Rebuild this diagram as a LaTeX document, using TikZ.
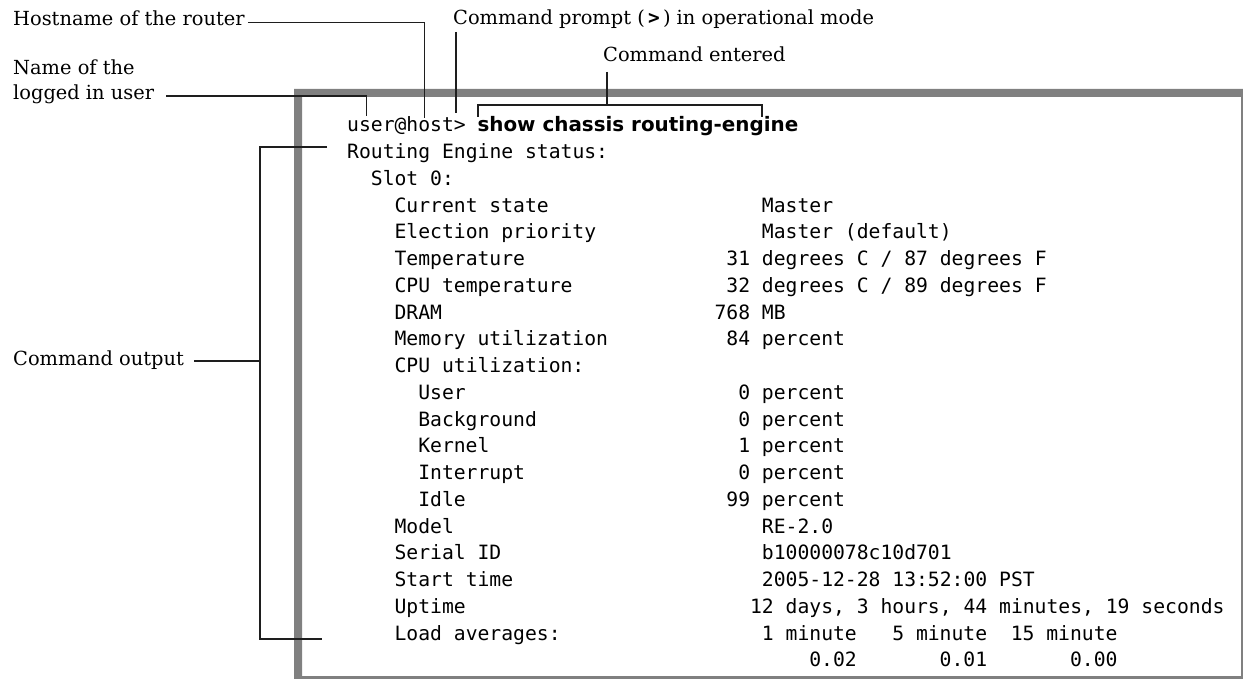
\documentclass[tikz,border=0pt]{standalone}
\usepackage{fontspec}
\usepackage{tikz}
\usetikzlibrary{positioning}
\newfontfamily\termfont{DejaVu Sans Mono}
\newfontfamily\cmdfont{DejaVu Sans}
\newfontfamily\notefont{DejaVu Serif}
\definecolor{framegray}{RGB}{128,128,128}
\definecolor{leadergray}{RGB}{30,30,30}

\begin{document}
\begin{tikzpicture}[x=1pt,y=-1pt]

% styles
\tikzset{
    term/.style={anchor=base west, inner sep=0pt, font=\termfont\fontsize{19.7}{22}\selectfont},
    cmd/.style={anchor=base west, inner sep=0pt, font=\cmdfont\bfseries\fontsize{19.9}{22}\selectfont},
    note/.style={anchor=base west, inner sep=0pt, font=\notefont\fontsize{19.4}{22}\selectfont},
    leader/.style={draw=leadergray, line width=1.7pt},
    frame/.style={fill=framegray, even odd rule}
}

\useasboundingbox (0,0) rectangle (1243,679);

% terminal frame
\fill[frame] (294,89) rectangle (1243,679) (302,97) rectangle (1241,676);

% prompt line
\node[term] (l1) at (347,132) {user@host>};
\node[cmd] (cmd) at ({347+11*11.85},132) {show chassis routing-engine};

% output, left column
\foreach \i/\c/\t in {2/0/Routing Engine status:, 3/2/Slot 0:, 4/4/Current state,
    5/4/Election priority, 6/4/Temperature, 7/4/CPU temperature, 8/4/DRAM,
    9/4/Memory utilization, 10/4/CPU utilization:, 11/6/User, 12/6/Background,
    13/6/Kernel, 14/6/Interrupt, 15/6/Idle, 16/4/Model, 17/4/Serial ID,
    18/4/Start time, 19/4/Uptime, 20/4/Load averages:} {
    \node[term] (l\i) at ({347+\c*11.85},{132+(\i-1)*26.74}) {\t};
}

% output, values
\foreach \i/\c/\t in {4/35/Master, 5/35/Master (default),
    6/32/{31 degrees C / 87 degrees F}, 7/32/{32 degrees C / 89 degrees F},
    8/31/768 MB, 9/32/84 percent, 11/33/0 percent, 12/33/0 percent,
    13/33/1 percent, 14/33/0 percent, 15/32/99 percent, 16/35/RE-2.0,
    17/35/b10000078c10d701, 18/35/2005-12-28 13:52:00 PST,
    19/34/{12 days, 3 hours, 44 minutes, 19 seconds},
    20/35/1 minute, 20/46/5 minute, 20/56/15 minute,
    21/39/0.02, 21/50/0.01, 21/61/0.00} {
    \node[term] (v\i-\c) at ({347+\c*11.85},{132+(\i-1)*26.74}) {\t};
}

% notes
\node[note] (host) at (13,25.5) {Hostname of the router};
\node[note] (prompt) at (453,25) {Command prompt (\,{\termfont\bfseries >}\,) in operational mode};
\node[note] (entered) at (603,61.5) {Command entered};
\node[note] (namea) at (13,75) {Name of the};
\node[note] (nameb) at (13,100) {logged in user};
\node[note] (output) at (13,365) {Command output};

% pointer ends
\coordinate (hostpt) at (424.5,118);
\coordinate (promptpt) at (456,113);
\coordinate (userpt) at (366.5,116);
\coordinate (brkL) at (478,117);
\coordinate (brkM) at (607,105);
\coordinate (brkR) at (762,117);
\coordinate (outtop) at (327,147);
\coordinate (outmid) at (260,361);
\coordinate (outbot) at (322,639);

% leaders
\draw[leader] ([xshift=3pt,yshift=3pt]host.base east) -| (hostpt);
\draw[leader] ([xshift=3pt,yshift=-7pt]prompt.base west) -- (promptpt);
\draw[leader] ([xshift=4pt,yshift=-10.5pt]entered.base west) -- (brkM);
\draw[leader] (brkL) |- (brkM) -| (brkR);
\draw[leader] ([xshift=12pt,yshift=4pt]nameb.base east) -| (userpt);
\draw[leader] ([xshift=10pt,yshift=4pt]output.base east) -- (outmid);
\draw[leader] (outtop) -| (outmid) |- (outbot);

\end{tikzpicture}
\end{document}
